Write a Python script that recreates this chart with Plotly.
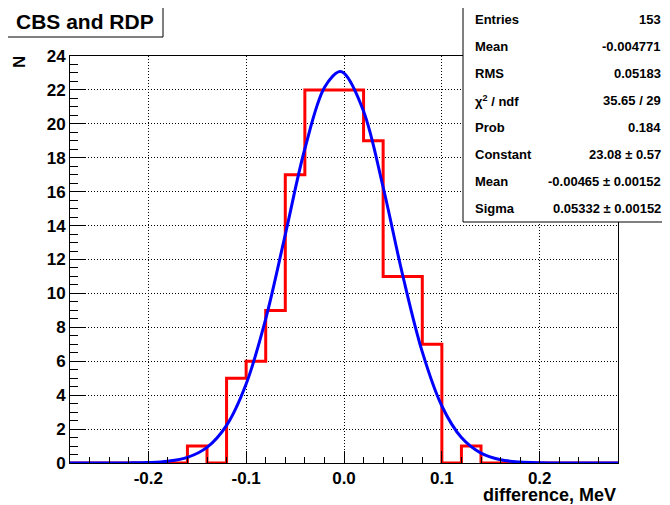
import plotly.graph_objects as go

# histogram: bin edges (MeV) and counts
bin_edges = [-0.28, -0.26, -0.24, -0.22, -0.20, -0.18, -0.16, -0.14, -0.12, -0.10,
             -0.08, -0.06, -0.04, -0.02, 0.00, 0.02, 0.04, 0.06, 0.08, 0.10,
             0.12, 0.14, 0.16, 0.18, 0.20, 0.22, 0.24, 0.26, 0.28]
counts = [0, 0, 0, 0, 0, 0, 1, 0, 5, 6,
          9, 17, 22, 22, 22, 19, 11, 11, 7, 0,
          1, 0, 0, 0, 0, 0, 0, 0]

# gaussian fit curve
fit_x = [-0.28, -0.26, -0.24, -0.22, -0.20, -0.18, -0.16, -0.14, -0.12, -0.10,
         -0.08, -0.06, -0.04, -0.02, -0.005, 0.00, 0.02, 0.04, 0.06, 0.08,
         0.10, 0.12, 0.14, 0.16, 0.18, 0.20, 0.22, 0.24, 0.26, 0.28]
fit_y = [0.0, 0.0002, 0.0014, 0.0066, 0.028, 0.103, 0.331, 0.92, 2.22, 4.66,
         8.50, 13.47, 18.53, 22.14, 23.08, 22.99, 20.74, 16.26, 11.07, 6.55,
         3.36, 1.50, 0.582, 0.196, 0.057, 0.0146, 0.0032, 0.0006, 0.0, 0.0]

x_tickvals = [-0.2, -0.1, 0.0, 0.1, 0.2]
x_ticktext = ["-0.2", "-0.1", "0.0", "0.1", "0.2"]

stat_labels = ["Entries", "Mean", "RMS", "χ<sup>2</sup> / ndf", "Prob",
               "Constant", "Mean", "Sigma"]
stat_values = ["153", "-0.004771", "0.05183", "35.65 / 29", "0.184",
               "23.08 ± 0.57", "-0.00465 ± 0.00152", "0.05332 ± 0.00152"]

FONT = "Liberation Sans, Arial, sans-serif"
PAGE = 8  # body margin of the html page
W, H = 670, 505
L, R, T, B = 70, 618, 56, 463  # frame in window pixels


def px_x(p):
    return (p - L) / (R - L)


def px_y(p):
    return (B - p) / (B - T)


def box_text(x, y, text, size, xanchor="center", yanchor="middle", **kw):
    fig.add_annotation(xref="paper", yref="paper", x=px_x(x), y=px_y(y),
                       text=text, showarrow=False,
                       xanchor=xanchor, yanchor=yanchor,
                       font=dict(family=FONT, size=size, color="black",
                                 weight="bold"), **kw)


fig = go.Figure()

fig.add_trace(go.Scatter(
    x=bin_edges, y=counts + [counts[-1]],
    mode="lines",
    line=dict(color="#ff0000", width=3, shape="hv"),
    showlegend=False, hoverinfo="skip",
))

fig.add_trace(go.Scatter(
    x=fit_x, y=fit_y,
    mode="lines",
    line=dict(color="#0000ff", width=3, shape="spline"),
    showlegend=False, hoverinfo="skip",
))

axis_common = dict(
    showline=True, linecolor="black", linewidth=1, mirror=True,
    ticks="inside", tickcolor="black",
    showgrid=True, gridcolor="black", gridwidth=1, griddash="1px,2px",
    zeroline=False,
    tickfont=dict(family=FONT, size=17, color="black", weight="bold"),
)

fig.update_layout(
    width=W - PAGE, height=H - PAGE,
    paper_bgcolor="white",
    plot_bgcolor="white",
    margin=dict(l=L - PAGE, r=W - R, t=T - PAGE, b=H - B),
    xaxis=dict(
        range=[-0.28, 0.28],
        tickvals=x_tickvals, ticktext=x_ticktext,
        ticklen=12,
        minor=dict(dtick=0.02, tick0=0, ticklen=6, ticks="inside",
                   tickcolor="black", showgrid=False),
        **axis_common,
    ),
    yaxis=dict(
        range=[0, 24],
        dtick=2, tick0=0,
        ticklen=16,
        minor=dict(dtick=0.5, tick0=0, ticklen=8, ticks="inside",
                   tickcolor="black", showgrid=False),
        **axis_common,
    ),
    font=dict(family=FONT, color="black"),
)

# title box
fig.add_shape(type="rect", xref="paper", yref="paper",
              x0=px_x(7), x1=px_x(163), y0=px_y(37), y1=px_y(5),
              line=dict(color="black", width=1), fillcolor="white", layer="above")
box_text(85, 21, "CBS and RDP", 21)

# stats box
fig.add_shape(type="rect", xref="paper", yref="paper",
              x0=px_x(463), x1=px_x(668), y0=px_y(222), y1=px_y(5),
              line=dict(color="black", width=1), fillcolor="white", layer="above")
for i, (lab, val) in enumerate(zip(stat_labels, stat_values)):
    yy = 20 + i * 26.9
    box_text(473, yy, lab, 13, xanchor="left")
    box_text(663, yy, val, 13, xanchor="right")

# axis titles
box_text(618, 495, "difference, MeV", 18, xanchor="right")
box_text(19, 54, "N", 17, yanchor="top", textangle=-90)

fig.write_html("out.html")
